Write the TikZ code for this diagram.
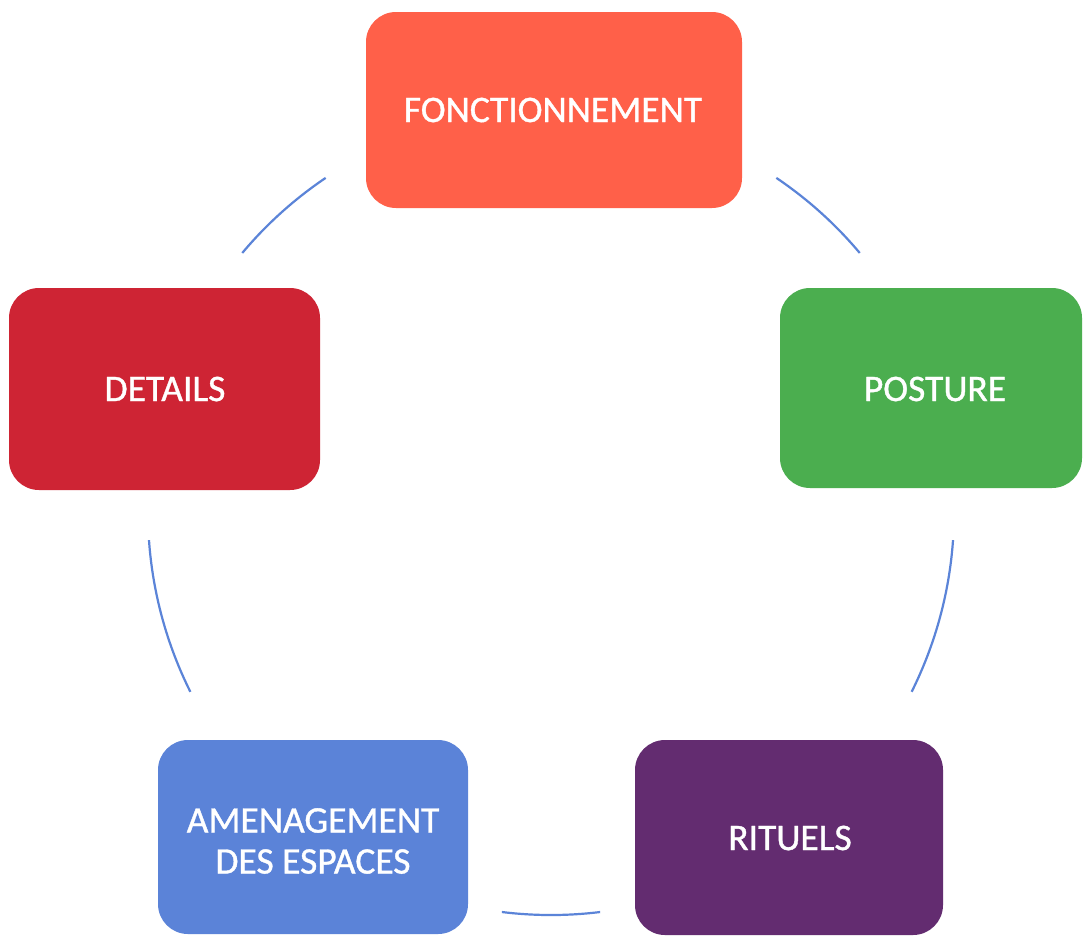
\documentclass[tikz,border=0pt]{standalone}
\usepackage{fontspec}
\setmainfont{Carlito}
\newfontface\boxfont{Carlito}[FakeBold=1]
\definecolor{cFonct}{HTML}{FF6049}
\definecolor{cPost}{HTML}{4BAE4F}
\definecolor{cRit}{HTML}{632C70}
\definecolor{cAmen}{HTML}{5B83D8}
\definecolor{cDet}{HTML}{CE2434}
\definecolor{cArc}{HTML}{5B84D8}
\tikzset{
  cbox/.style={text=white, align=center,
    font=\boxfont\fontsize{37.5}{41}\selectfont},
  cyc/.style={draw=cArc, line width=2.2pt}
}
\begin{document}
\begin{tikzpicture}[x=1pt,y=-1pt]
\useasboundingbox[fill=white] (0,0) rectangle (1083,935);
\fill[cFonct, rounded corners=30pt] (366,12) rectangle (742,208);
\fill[cPost, rounded corners=30pt] (780,288) rectangle (1082,488);
\fill[cRit, rounded corners=30pt] (635,740) rectangle (943,935);
\fill[cAmen, rounded corners=30pt] (158,740) rectangle (468,934);
\fill[cDet, rounded corners=30pt] (9,288) rectangle (320,490);
\node[cbox] (fonct) at (553,110) {FONCTIONNEMENT};
\node[cbox] (post) at (935,389) {POSTURE};
\node[cbox] (rit) at (790,838) {RITUELS};
\node[cbox] (amen) at (313,841) {AMENAGEMENT\\DES ESPACES};
\node[cbox] (det) at (165,389) {DETAILS};
\coordinate (c) at (551,512);
\draw[cyc] (c) ++(-56:403) coordinate (a1) arc[start angle=-56, end angle=-40, radius=403];
\draw[cyc] (c) ++(4:403) coordinate (a2) arc[start angle=4, end angle=26.5, radius=403];
\draw[cyc] (c) ++(83:403) coordinate (a3) arc[start angle=83, end angle=97, radius=403];
\draw[cyc] (c) ++(153.5:403) coordinate (a4) arc[start angle=153.5, end angle=176, radius=403];
\draw[cyc] (c) ++(-140:403) coordinate (a5) arc[start angle=-140, end angle=-124, radius=403];
\end{tikzpicture}
\end{document}
